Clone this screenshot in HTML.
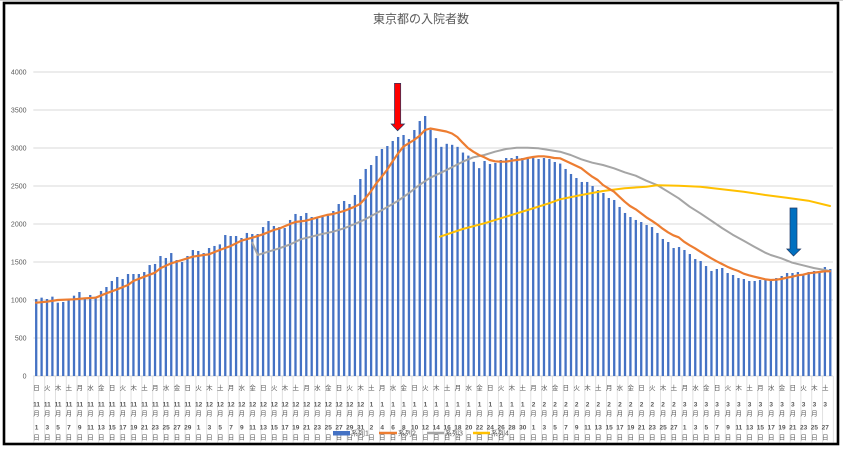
<!DOCTYPE html>
<html><head><meta charset="utf-8"><style>
html,body{margin:0;padding:0;background:#fff;}
svg{display:block;}
text{font-family:"Liberation Sans","Noto Sans CJK JP",sans-serif;fill:#595959;}
.yl{font-size:7px;text-anchor:end;}
.xl{font-size:6.5px;text-anchor:middle;}
.xb{font-weight:bold;}
.lg{font-size:7px;}
</style></head><body>
<svg width="843" height="450" viewBox="0 0 843 450" xmlns="http://www.w3.org/2000/svg">
<defs>
<pattern id="vd" patternUnits="userSpaceOnUse" x="33.4" y="0" width="10.804" height="450">
<rect x="0" y="0" width="0.8" height="450" fill="#d9d9d9"/>
</pattern>
</defs>
<line x1="0" y1="0.5" x2="843" y2="0.5" stroke="#d0d0d0" stroke-width="1"/>
<rect x="4" y="3" width="834" height="441" fill="#fff" stroke="#000" stroke-width="2.6"/>
<text x="421" y="23" style="font-size:12px;text-anchor:middle">東京都の入院者数</text>
<g stroke="#d9d9d9" stroke-width="1">
<line x1="33.3" y1="72" x2="833" y2="72"/>
<line x1="33.3" y1="110" x2="833" y2="110"/>
<line x1="33.3" y1="148" x2="833" y2="148"/>
<line x1="33.3" y1="186" x2="833" y2="186"/>
<line x1="33.3" y1="224" x2="833" y2="224"/>
<line x1="33.3" y1="262" x2="833" y2="262"/>
<line x1="33.3" y1="300" x2="833" y2="300"/>
<line x1="33.3" y1="338" x2="833" y2="338"/>
<line x1="33.3" y1="376" x2="833" y2="376"/>
</g>
<rect x="33" y="376" width="801" height="66.5" fill="url(#vd)"/>
<g class="yl">
<text class="yl" x="26.5" y="74.5">4000</text>
<text class="yl" x="26.5" y="112.5">3500</text>
<text class="yl" x="26.5" y="150.5">3000</text>
<text class="yl" x="26.5" y="188.5">2500</text>
<text class="yl" x="26.5" y="226.5">2000</text>
<text class="yl" x="26.5" y="264.5">1500</text>
<text class="yl" x="26.5" y="302.5">1000</text>
<text class="yl" x="26.5" y="340.5">500</text>
<text class="yl" x="26.5" y="378.5">0</text>
</g>
<g transform="translate(35.05,376) scale(5.402,-0.076)" fill="#4472C4">
<rect x="0" width=".4257" height="1013"/><rect x="1" width=".4257" height="1031"/><rect x="2" width=".4257" height="1013"/><rect x="3" width=".4257" height="1044"/><rect x="4" width=".4257" height="965"/><rect x="5" width=".4257" height="974"/><rect x="6" width=".4257" height="1000"/><rect x="7" width=".4257" height="1057"/><rect x="8" width=".4257" height="1105"/><rect x="9" width=".4257" height="1018"/>
<rect x="10" width=".4257" height="1066"/><rect x="11" width=".4257" height="1044"/><rect x="12" width=".4257" height="1118"/><rect x="13" width=".4257" height="1171"/><rect x="14" width=".4257" height="1250"/><rect x="15" width=".4257" height="1303"/><rect x="16" width=".4257" height="1276"/><rect x="17" width=".4257" height="1342"/><rect x="18" width=".4257" height="1342"/><rect x="19" width=".4257" height="1342"/>
<rect x="20" width=".4257" height="1368"/><rect x="21" width=".4257" height="1460"/><rect x="22" width=".4257" height="1474"/><rect x="23" width=".4257" height="1579"/><rect x="24" width=".4257" height="1553"/><rect x="25" width=".4257" height="1618"/><rect x="26" width=".4257" height="1526"/><rect x="27" width=".4257" height="1500"/><rect x="28" width=".4257" height="1579"/><rect x="29" width=".4257" height="1658"/>
<rect x="30" width=".4257" height="1645"/><rect x="31" width=".4257" height="1618"/><rect x="32" width=".4257" height="1684"/><rect x="33" width=".4257" height="1711"/><rect x="34" width=".4257" height="1732"/><rect x="35" width=".4257" height="1855"/><rect x="36" width=".4257" height="1842"/><rect x="37" width=".4257" height="1842"/><rect x="38" width=".4257" height="1816"/><rect x="39" width=".4257" height="1882"/>
<rect x="40" width=".4257" height="1868"/><rect x="41" width=".4257" height="1868"/><rect x="42" width=".4257" height="1960"/><rect x="43" width=".4257" height="2039"/><rect x="44" width=".4257" height="1974"/><rect x="45" width=".4257" height="1960"/><rect x="46" width=".4257" height="1947"/><rect x="47" width=".4257" height="2053"/><rect x="48" width=".4257" height="2132"/><rect x="49" width=".4257" height="2105"/>
<rect x="50" width=".4257" height="2145"/><rect x="51" width=".4257" height="2092"/><rect x="52" width=".4257" height="2083"/><rect x="53" width=".4257" height="2092"/><rect x="54" width=".4257" height="2110"/><rect x="55" width=".4257" height="2171"/><rect x="56" width=".4257" height="2263"/><rect x="57" width=".4257" height="2303"/><rect x="58" width=".4257" height="2263"/><rect x="59" width=".4257" height="2382"/>
<rect x="60" width=".4257" height="2592"/><rect x="61" width=".4257" height="2724"/><rect x="62" width=".4257" height="2776"/><rect x="63" width=".4257" height="2895"/><rect x="64" width=".4257" height="2987"/><rect x="65" width=".4257" height="3026"/><rect x="66" width=".4257" height="3092"/><rect x="67" width=".4257" height="3145"/><rect x="68" width=".4257" height="3171"/><rect x="69" width=".4257" height="3118"/>
<rect x="70" width=".4257" height="3237"/><rect x="71" width=".4257" height="3355"/><rect x="72" width=".4257" height="3421"/><rect x="73" width=".4257" height="3240"/><rect x="74" width=".4257" height="3130"/><rect x="75" width=".4257" height="3015"/><rect x="76" width=".4257" height="3055"/><rect x="77" width=".4257" height="3042"/><rect x="78" width=".4257" height="3015"/><rect x="79" width=".4257" height="2940"/>
<rect x="80" width=".4257" height="2900"/><rect x="81" width=".4257" height="2818"/><rect x="82" width=".4257" height="2735"/><rect x="83" width=".4257" height="2829"/><rect x="84" width=".4257" height="2789"/><rect x="85" width=".4257" height="2803"/><rect x="86" width=".4257" height="2842"/><rect x="87" width=".4257" height="2868"/><rect x="88" width=".4257" height="2868"/><rect x="89" width=".4257" height="2895"/>
<rect x="90" width=".4257" height="2868"/><rect x="91" width=".4257" height="2882"/><rect x="92" width=".4257" height="2868"/><rect x="93" width=".4257" height="2855"/><rect x="94" width=".4257" height="2868"/><rect x="95" width=".4257" height="2855"/><rect x="96" width=".4257" height="2816"/><rect x="97" width=".4257" height="2795"/><rect x="98" width=".4257" height="2724"/><rect x="99" width=".4257" height="2658"/>
<rect x="100" width=".4257" height="2605"/><rect x="101" width=".4257" height="2553"/><rect x="102" width=".4257" height="2553"/><rect x="103" width=".4257" height="2500"/><rect x="104" width=".4257" height="2447"/><rect x="105" width=".4257" height="2408"/><rect x="106" width=".4257" height="2342"/><rect x="107" width=".4257" height="2316"/><rect x="108" width=".4257" height="2224"/><rect x="109" width=".4257" height="2145"/>
<rect x="110" width=".4257" height="2092"/><rect x="111" width=".4257" height="2053"/><rect x="112" width=".4257" height="2026"/><rect x="113" width=".4257" height="1987"/><rect x="114" width=".4257" height="1960"/><rect x="115" width=".4257" height="1882"/><rect x="116" width=".4257" height="1803"/><rect x="117" width=".4257" height="1763"/><rect x="118" width=".4257" height="1684"/><rect x="119" width=".4257" height="1697"/>
<rect x="120" width=".4257" height="1658"/><rect x="121" width=".4257" height="1605"/><rect x="122" width=".4257" height="1539"/><rect x="123" width=".4257" height="1513"/><rect x="124" width=".4257" height="1447"/><rect x="125" width=".4257" height="1382"/><rect x="126" width=".4257" height="1408"/><rect x="127" width=".4257" height="1421"/><rect x="128" width=".4257" height="1355"/><rect x="129" width=".4257" height="1329"/>
<rect x="130" width=".4257" height="1289"/><rect x="131" width=".4257" height="1276"/><rect x="132" width=".4257" height="1250"/><rect x="133" width=".4257" height="1250"/><rect x="134" width=".4257" height="1263"/><rect x="135" width=".4257" height="1263"/><rect x="136" width=".4257" height="1263"/><rect x="137" width=".4257" height="1289"/><rect x="138" width=".4257" height="1316"/><rect x="139" width=".4257" height="1355"/>
<rect x="140" width=".4257" height="1355"/><rect x="141" width=".4257" height="1368"/><rect x="142" width=".4257" height="1340"/><rect x="143" width=".4257" height="1368"/><rect x="144" width=".4257" height="1382"/><rect x="145" width=".4257" height="1368"/><rect x="146" width=".4257" height="1434"/><rect x="147" width=".4257" height="1408"/>
</g>
<g fill="none" stroke-linejoin="round" stroke-linecap="round">
<polyline stroke="#A5A5A5" stroke-width="2" points="252.3,242.7 257.7,255 268.3,251.7 279.3,248.3 290,244.5 300.7,239.3 311.3,236.7 322,234 333,231.7 344,228.3 354.7,224 365.3,219.3 376.3,213.3 387,207.3 397.7,201 408.7,193.3 419.3,185 430.3,177.7 441,172.7 452,167.3 462.7,161.7 473.3,157.3 484.3,155 495,151.7 506,149 516.7,147.7 527.7,147.7 538.3,148.3 549,150 560,151.7 570.7,155 581.3,159.3 592.3,162.7 603,165 614,168.3 624.7,172.3 635.7,175.7 646.3,180.7 657,185 668,191.7 678.7,198.3 689.7,206.7 700.3,213.3 711.3,220.7 722,228 732.7,234.7 743.7,240.7 754.3,246.7 765.3,252.7 770.7,255 781.3,258.3 792.3,262.7 803,265.3 813.7,268 824.7,270 830,271"/>
<polyline stroke="#FFC000" stroke-width="2" points="440,236.7 462.7,229 484.3,223.3 506,216.7 527.7,210 549,203.3 560,199.3 581.3,195 603,191 624.7,188.3 646.3,186.7 657,185.3 678.7,185.7 700.3,186.7 722,189.3 743.7,191.7 765.3,195 786.7,197.7 808.3,200.7 830,206"/>
<polyline stroke="#ED7D31" stroke-width="2.2" points="36,302.7 47,301.7 57.7,300 74,299.3 84.7,298.3 95.7,297.7 106.3,293.3 117.3,289.3 128,285 133.3,281 144.3,276.7 155,272.7 160.3,268.3 171.3,263.3 182,260 192.7,256.7 203.7,255 209,254.3 219.7,250 230.7,246 241.3,240.7 252.3,237.7 263,234.3 273.7,230 280,228.3 290,224 295.3,222 306,220.7 316.7,217.7 326.7,215 333,214 344,211 354.7,206.7 360,204 365.3,198.3 370.7,191.7 376.3,183.3 381.7,176.7 387,170 392.3,161.7 397.7,154 403.3,146.7 408.7,143.3 414,140 419.3,136 425,130 430.3,128.5 435.7,129.5 441,130.5 446.3,131.5 452,133.5 457.3,137 462.7,142.7 468,148 473.3,151.7 479,155 484.3,157.3 489.7,160 495,161.3 500.3,161.7 506,161.7 511.3,160.7 516.7,160 522,159.3 527.7,158 533,157 538.3,156.3 543.7,156.3 549,157 554.3,158 560,158.3 570.7,163.3 581.3,168.3 587,172.7 592.3,176.7 597.7,180 603,185 608.3,188.3 614,191.7 619.3,196.7 624.7,201.7 630,206 635.7,209.3 641,213.3 646.3,217.3 651.7,220.7 657,224.3 662.7,228.7 668,232.3 673.3,235.3 678.7,237.3 684,241.7 689.7,245.3 695,248.3 700.3,251.7 705.7,255 711.3,258.3 716.7,261.3 722,264 727.3,266.7 732.7,269 738.3,271 743.7,273.7 749,275.3 754.3,276.7 759.7,278 765.3,279.3 770.7,280 776,279.7 781.3,279 786.7,277.7 792.3,276.7 797.7,275.3 803,274.7 808.3,273.3 813.7,272.7 819.3,272 824.7,271.3 830,271.3"/>
</g>
<polygon points="394.5,83.3 400.7,83.3 400.7,124 404.5,124 397.6,130.7 391.2,124 394.5,124" fill="#FF0000" stroke="#203864" stroke-width="0.7"/>
<polygon points="790,208 797,208 797,249 800.7,249 793.5,256 786.8,249 790,249" fill="#0070C0" stroke="#203864" stroke-width="0.7"/>
<g transform="translate(-0.5,0)">
<text class="xl" y="390" x="37 47.8 58.6 69.4 80.2 91 101.8 112.6 123.4 134.2 145 155.8 166.6 177.5 188.3 199.1 209.9 220.7 231.5 242.3 253.1 263.9 274.7 285.5 296.3 307.1 317.9 328.7 339.5 350.3 361.1 371.9 382.7 393.5 404.3 415.1 425.9 436.7 447.6 458.4 469.2 480 490.8 501.6 512.4 523.2 534 544.8 555.6 566.4 577.2 588 598.8 609.6 620.4 631.2 642 652.8 663.6 674.4 685.2 696 706.8 717.6 728.5 739.3 750.1 760.9 771.7 782.5 793.3 804.1 814.9 825.7">日火木土月水金日火木土月水金日火木土月水金日火木土月水金日火木土月水金日火木土月水金日火木土月水金日火木土月水金日火木土月水金日火木土月水金日火木土</text>
<text class="xl xb" y="406.3"><tspan x="37">11</tspan><tspan x="47.8">11</tspan><tspan x="58.6">11</tspan><tspan x="69.4">11</tspan><tspan x="80.2">11</tspan><tspan x="91">11</tspan><tspan x="101.8">11</tspan><tspan x="112.6">11</tspan><tspan x="123.4">11</tspan><tspan x="134.2">11</tspan><tspan x="145">11</tspan><tspan x="155.8">11</tspan><tspan x="166.6">11</tspan><tspan x="177.5">11</tspan><tspan x="188.3">11</tspan><tspan x="199.1">12</tspan><tspan x="209.9">12</tspan><tspan x="220.7">12</tspan><tspan x="231.5">12</tspan><tspan x="242.3">12</tspan><tspan x="253.1">12</tspan><tspan x="263.9">12</tspan><tspan x="274.7">12</tspan><tspan x="285.5">12</tspan><tspan x="296.3">12</tspan><tspan x="307.1">12</tspan><tspan x="317.9">12</tspan><tspan x="328.7">12</tspan><tspan x="339.5">12</tspan><tspan x="350.3">12</tspan><tspan x="361.1">12</tspan></text>
<text class="xl xb" y="406.3" x="371.9 382.7 393.5 404.3 415.1 425.9 436.7 447.6 458.4 469.2 480 490.8 501.6 512.4 523.2">111111111111111</text>
<text class="xl xb" y="406.3" x="534 544.8 555.6 566.4 577.2 588 598.8 609.6 620.4 631.2 642 652.8 663.6 674.4">22222222222222</text>
<text class="xl xb" y="406.3" x="685.2 696 706.8 717.6 728.5 739.3 750.1 760.9 771.7 782.5 793.3 804.1 814.9 825.7">33333333333333</text>
<text class="xl" y="415.5" x="37 47.8 58.6 69.4 80.2 91 101.8 112.6 123.4 134.2 145 155.8 166.6 177.5 188.3 199.1 209.9 220.7 231.5 242.3 253.1 263.9 274.7 285.5 296.3 307.1 317.9 328.7 339.5 350.3 361.1 371.9 382.7 393.5 404.3 415.1 425.9 436.7 447.6 458.4 469.2 480 490.8 501.6 512.4 523.2 534 544.8 555.6 566.4 577.2 588 598.8 609.6 620.4 631.2 642 652.8 663.6 674.4 685.2 696 706.8 717.6 728.5 739.3 750.1 760.9 771.7 782.5 793.3 804.1 814.9 825.7">月月月月月月月月月月月月月月月月月月月月月月月月月月月月月月月月月月月月月月月月月月月月月月月月月月月月月月月月月月月月月月月月月月月月月月月月月</text>
<text class="xl xb" y="429.3"><tspan x="37">1</tspan><tspan x="47.8">3</tspan><tspan x="58.6">5</tspan><tspan x="69.4">7</tspan><tspan x="80.2">9</tspan><tspan x="91">11</tspan><tspan x="101.8">13</tspan><tspan x="112.6">15</tspan><tspan x="123.4">17</tspan><tspan x="134.2">19</tspan><tspan x="145">21</tspan><tspan x="155.8">23</tspan><tspan x="166.6">25</tspan><tspan x="177.5">27</tspan><tspan x="188.3">29</tspan><tspan x="199.1">1</tspan><tspan x="209.9">3</tspan><tspan x="220.7">5</tspan><tspan x="231.5">7</tspan><tspan x="242.3">9</tspan><tspan x="253.1">11</tspan><tspan x="263.9">13</tspan><tspan x="274.7">15</tspan><tspan x="285.5">17</tspan><tspan x="296.3">19</tspan><tspan x="307.1">21</tspan><tspan x="317.9">23</tspan><tspan x="328.7">25</tspan><tspan x="339.5">27</tspan><tspan x="350.3">29</tspan><tspan x="361.1">31</tspan><tspan x="371.9">2</tspan><tspan x="382.7">4</tspan><tspan x="393.5">6</tspan><tspan x="404.3">8</tspan><tspan x="415.1">10</tspan><tspan x="425.9">12</tspan><tspan x="436.7">14</tspan><tspan x="447.6">16</tspan><tspan x="458.4">18</tspan><tspan x="469.2">20</tspan><tspan x="480">22</tspan><tspan x="490.8">24</tspan><tspan x="501.6">26</tspan><tspan x="512.4">28</tspan><tspan x="523.2">30</tspan><tspan x="534">1</tspan><tspan x="544.8">3</tspan><tspan x="555.6">5</tspan><tspan x="566.4">7</tspan><tspan x="577.2">9</tspan><tspan x="588">11</tspan><tspan x="598.8">13</tspan><tspan x="609.6">15</tspan><tspan x="620.4">17</tspan><tspan x="631.2">19</tspan><tspan x="642">21</tspan><tspan x="652.8">23</tspan><tspan x="663.6">25</tspan><tspan x="674.4">27</tspan><tspan x="685.2">1</tspan><tspan x="696">3</tspan><tspan x="706.8">5</tspan><tspan x="717.6">7</tspan><tspan x="728.5">9</tspan><tspan x="739.3">11</tspan><tspan x="750.1">13</tspan><tspan x="760.9">15</tspan><tspan x="771.7">17</tspan><tspan x="782.5">19</tspan><tspan x="793.3">21</tspan><tspan x="804.1">23</tspan><tspan x="814.9">25</tspan><tspan x="825.7">27</tspan></text>
<text class="xl" y="439.5" x="37 47.8 58.6 69.4 80.2 91 101.8 112.6 123.4 134.2 145 155.8 166.6 177.5 188.3 199.1 209.9 220.7 231.5 242.3 253.1 263.9 274.7 285.5 296.3 307.1 317.9 328.7 339.5 350.3 361.1 371.9 382.7 393.5 404.3 415.1 425.9 436.7 447.6 458.4 469.2 480 490.8 501.6 512.4 523.2 534 544.8 555.6 566.4 577.2 588 598.8 609.6 620.4 631.2 642 652.8 663.6 674.4 685.2 696 706.8 717.6 728.5 739.3 750.1 760.9 771.7 782.5 793.3 804.1 814.9 825.7">日日日日日日日日日日日日日日日日日日日日日日日日日日日日日日日日日日日日日日日日日日日日日日日日日日日日日日日日日日日日日日日日日日日日日日日日日日</text>
</g>
<rect x="333" y="431" width="17" height="4.5" fill="#4472C4"/>
<text class="lg" x="351" y="435.5">系列1</text>
<line x1="379" y1="433" x2="397" y2="433" stroke="#ED7D31" stroke-width="2.5"/>
<text class="lg" x="398" y="435.5">系列2</text>
<line x1="427" y1="433" x2="444" y2="433" stroke="#A5A5A5" stroke-width="2.5"/>
<text class="lg" x="445" y="435.5">系列3</text>
<line x1="473" y1="433" x2="490" y2="433" stroke="#FFC000" stroke-width="2.5"/>
<text class="lg" x="491" y="435.5">系列4</text>
</svg>
</body></html>
